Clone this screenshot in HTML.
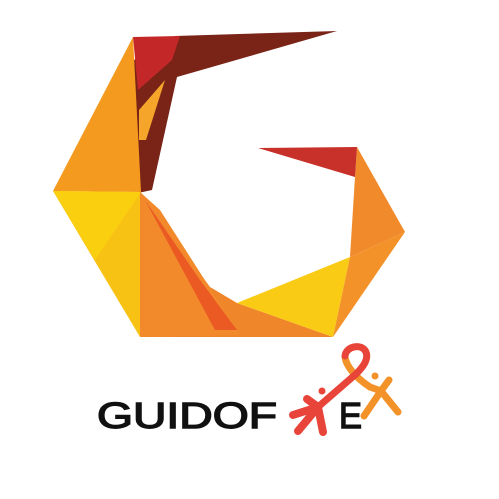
<!DOCTYPE html>
<html><head><meta charset="utf-8"><style>
html,body{margin:0;padding:0;background:#fff;width:499px;height:499px;overflow:hidden}
</style></head><body>
<svg width="499" height="499" viewBox="0 0 499 499" xmlns="http://www.w3.org/2000/svg">
<g>
<polygon points="175,36 337,31 177,77 152,190 138,193 134,60" fill="#7a2418"/>
<polygon points="133,37 141,192 53,191" fill="#f49a1f"/>
<polygon points="53,191 141,192 140,337" fill="#f8c214"/>
<polygon points="53,191 141,192 95,260" fill="#f9cf10"/>
<polygon points="133,37 180,36 172,60 138,90" fill="#c42727"/>
<polygon points="139,110 165,80 146,140 139,140" fill="#f5a52a"/>
<polygon points="140,192 210,287 237,303 333,337 140,337" fill="#f0862a"/>
<polygon points="140,192 160,210 240,335 140,337" fill="#f28a2c"/>
<polygon points="145,200 200,280 237,330 215,330" fill="#ea5a22"/>
<polygon points="237,303 350,257 333,337" fill="#f9cb14"/>
<polygon points="357,147 405,232 350,257 355,177" fill="#f08a2a"/>
<polygon points="350,257 405,232 333,337" fill="#f4922a"/>
<polygon points="258,148 357,147 355,177" fill="#c8302a"/>
</g>
<text x="97" y="428" textLength="180" lengthAdjust="spacingAndGlyphs" font-family="Liberation Sans, sans-serif" font-size="36" fill="#111" stroke="#111" stroke-width="1.4">GUIDOF</text>
<text x="339" y="428" textLength="23" lengthAdjust="spacingAndGlyphs" font-family="Liberation Sans, sans-serif" font-size="36" fill="#111" stroke="#111" stroke-width="1.4">E</text>
<g fill="none" stroke-linecap="round" stroke-linejoin="round">
<path d="M345,357 C346,366 356,378 370,387 L381,391" stroke="#f39229" stroke-width="7"/>
<path d="M381,391 L364,416 M381,391 L398,412 M381,391 L389,380" stroke="#f39229" stroke-width="7"/>
<path d="M345,356 C346,346 362,343 366,352 C369,360 362,368 356,374 L318,407" stroke="#e8443a" stroke-width="7"/>
<path d="M318,407 L298,431 M318,407 L323,432 M318,407 L307,399 M318,407 L293,415" stroke="#e8443a" stroke-width="8"/>
</g>
<circle cx="322" cy="391" r="3.5" fill="#e8443a"/>
<circle cx="375" cy="376" r="3.5" fill="#f39229"/>
</svg>
</body></html>
